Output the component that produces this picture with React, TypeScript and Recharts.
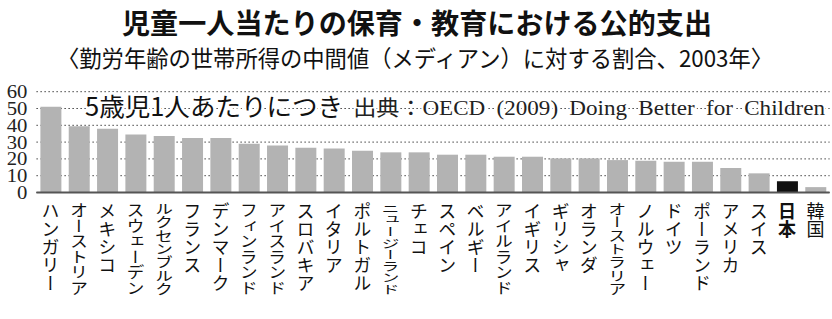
import { BarChart, Bar, XAxis, YAxis, CartesianGrid, Cell } from 'recharts';

const countries = [
  'ハンガリー', 'オーストリア', 'メキシコ', 'スウェーデン', 'ルクセンブルク', 'フランス', 'デンマーク',
  'フィンランド', 'アイスランド', 'スロバキア', 'イタリア', 'ポルトガル', 'ニュージーランド', 'チェコ',
  'スペイン', 'ベルギー', 'アイルランド', 'イギリス', 'ギリシャ', 'オランダ', 'オーストラリア',
  'ノルウェー', 'ドイツ', 'ポーランド', 'アメリカ', 'スイス', '日本', '韓国',
];

const spending = [
  51, 39.5, 38, 34.5, 33.7, 32.5, 32.5, 29, 28, 26.7, 26.2, 24.9, 23.9, 23.9,
  22.5, 22.5, 21.3, 21.3, 20.3, 20.3, 19.3, 18.9, 18.3, 18.3, 14.6, 11.4, 6.7, 3.2,
];

const yTicks = [0, 10, 20, 30, 40, 50, 60];

const title = '児童一人当たりの保育・教育における公的支出';
const subtitle = '〈勤労年齢の世帯所得の中間値（メディアン）に対する割合、2003年〉';
const note = '5歳児1人あたりにつき';
const source = '出典：OECD (2009) Doing Better for Children';

const highlight = '日本';

const chartData = countries.map((name, i) => ({ name, value: spending[i] }));

const sans = '"Noto Sans CJK JP", "Noto Sans", sans-serif';
const serif = '"Liberation Serif", "Noto Sans CJK JP", serif';

// long names get squeezed vertically so every label fits the same column height
const LABEL_SIZE = 18;
const LABEL_MAX = 93;

const CountryTick = ({ x, y, payload }: any) => {
  const name: string = payload.value;
  const natural = name.length * LABEL_SIZE;
  const k = natural > LABEL_MAX ? LABEL_MAX / natural : 1;
  return (
    <g transform={`translate(${x},${y}) scale(1,${k})`}>
      <text
        x={0}
        y={0}
        fontFamily={sans}
        fontSize={LABEL_SIZE}
        fontWeight={name === highlight ? 700 : 400}
        fill="#111"
        style={{ writingMode: 'vertical-rl' }}
      >
        {name}
      </text>
    </g>
  );
};

const ValueTick = ({ x, y, payload }: any) => (
  <g transform={`translate(${x},${y}) scale(1.15,1)`}>
    <text x={0} y={0} dy="0.36em" textAnchor="end" fontFamily={serif} fontSize={18} fill="#222">
      {payload.value}
    </text>
  </g>
);

export default function App() {
  return (
    <div style={{ position: 'absolute', left: 0, top: 0, width: 832, height: 319, background: '#fff' }}>
      <BarChart
        width={832}
        height={319}
        data={chartData}
        margin={{ top: 91.7, right: 2.4, left: 0, bottom: 6.5 }}
        barSize={21}
      >
        <CartesianGrid vertical={false} stroke="#444" strokeDasharray="1.5 2.5" />
        <XAxis
          dataKey="name"
          interval={0}
          height={120}
          tickLine={false}
          axisLine={{ stroke: '#555', strokeWidth: 2 }}
          tick={<CountryTick />}
          tickMargin={4}
        />
        <YAxis
          domain={[0, 60]}
          ticks={yTicks}
          interval={0}
          width={36.4}
          axisLine={false}
          tickLine={false}
          tickMargin={3}
          tick={<ValueTick />}
        />
        <Bar dataKey="value" isAnimationActive={false}>
          {chartData.map((d) => (
            <Cell key={d.name} fill={d.name === highlight ? '#111' : '#b3b3b3'} />
          ))}
        </Bar>
      </BarChart>
      <svg width={832} height={319} style={{ position: 'absolute', left: 0, top: 0, pointerEvents: 'none' }}>
        <text
          x={122}
          y={34}
          textLength={590}
          lengthAdjust="spacingAndGlyphs"
          fontFamily={sans}
          fontSize={28}
          fontWeight={700}
          fill="#111"
        >
          {title}
        </text>
        <text
          x={57}
          y={67}
          textLength={716}
          lengthAdjust="spacingAndGlyphs"
          fontFamily={sans}
          fontSize={23}
          fill="#111"
        >
          {subtitle}
        </text>
        <text
          x={85}
          y={116}
          textLength={258}
          lengthAdjust="spacingAndGlyphs"
          fontFamily={sans}
          fontSize={25}
          fill="#111"
          stroke="#fff"
          strokeWidth={5}
          paintOrder="stroke"
        >
          {note}
        </text>
        <g transform="translate(825,115) scale(1.1,1)">
          <text
            x={0}
            y={0}
            textAnchor="end"
            fontFamily={serif}
            fontSize={21}
            fill="#222"
            stroke="#fff"
            strokeWidth={4}
            paintOrder="stroke"
            style={{ wordSpacing: 5 }}
          >
            {source}
          </text>
        </g>
      </svg>
    </div>
  );
}
